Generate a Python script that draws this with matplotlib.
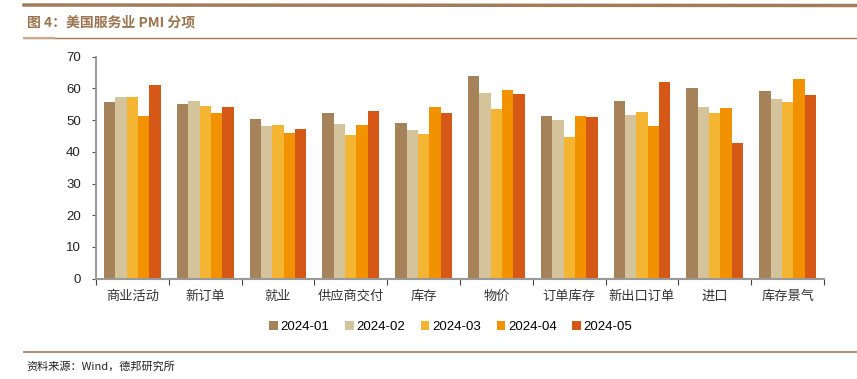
import numpy as np
import matplotlib
matplotlib.use("Agg")
import matplotlib.pyplot as plt
from matplotlib.lines import Line2D

plt.rcParams['font.family'] = ['Liberation Sans', 'Noto Sans CJK SC', 'DejaVu Sans']

categories = ["商业活动", "新订单", "就业", "供应商交付", "库存",
              "物价", "订单库存", "新出口订单", "进口", "库存景气"]
months = ["2024-01", "2024-02", "2024-03", "2024-04", "2024-05"]
v_jan = [55.8, 55.0, 50.5, 52.4, 49.2, 64.0, 51.4, 56.1, 60.0, 59.3]
v_feb = [57.2, 56.1, 48.0, 48.9, 47.0, 58.6, 50.1, 51.5, 54.2, 56.6]
v_mar = [57.4, 54.4, 48.5, 45.4, 45.6, 53.4, 44.8, 52.7, 52.4, 55.6]
v_apr = [51.2, 52.4, 45.9, 48.5, 54.0, 59.4, 51.2, 48.0, 53.7, 62.9]
v_may = [61.2, 54.2, 47.1, 52.9, 52.2, 58.3, 50.9, 61.9, 42.9, 57.8]
series = [v_jan, v_feb, v_mar, v_apr, v_may]
colors = ["#a6825a", "#d5c39b", "#f4b533", "#f39200", "#d55816"]

brown = "#a07c58"

fig = plt.figure(figsize=(8.57, 3.79), dpi=100)
ax = fig.add_axes([0.112, 0.2646, 0.8495, 0.5858])

x = np.arange(len(categories))
w = 0.156
for i, (vals, c) in enumerate(zip(series, colors)):
    ax.bar(x + (i - 2) * w, vals, width=w, color=c, label=months[i], zorder=2)

ax.set_xlim(-0.5, len(categories) - 0.5)
ax.set_ylim(0, 70)
ax.set_yticks(range(0, 71, 10))
ax.tick_params(axis='y', labelsize=9.5, length=3, color="#555555", pad=8, labelcolor="#222222")

ax.set_xticks(np.arange(len(categories) + 1) - 0.5)
ax.set_xticklabels([])
ax.set_xticks(x, minor=True)
ax.set_xticklabels(categories, minor=True, fontsize=9.5, color="#333333",
                   family=['Noto Sans CJK SC', 'DejaVu Sans'])
ax.tick_params(axis='x', which='major', length=4, direction='out', color="#444444")
ax.tick_params(axis='x', which='minor', length=0, pad=8)

for s in ["top", "right"]:
    ax.spines[s].set_visible(False)
ax.spines["left"].set_color("#888888")
ax.spines["left"].set_linewidth(1.2)
ax.spines["bottom"].set_color("#999999")
ax.spines["bottom"].set_linewidth(1.5)

fig.legend(loc="center", bbox_to_anchor=(0.526, 0.137), ncol=5, frameon=False,
           fontsize=9.5, handlelength=0.65, handleheight=0.65, handletextpad=0.2,
           columnspacing=1.2)

# header and footer decoration
fig.add_artist(Line2D([24 / 857, 1], [1 - 5 / 379, 1 - 5.5 / 379], color=brown, lw=2.5))
fig.add_artist(Line2D([24 / 857, 1], [1 - 37.5 / 379, 1 - 37.5 / 379], color=brown, lw=1))
fig.add_artist(Line2D([24 / 857, 54 / 857], [1 - 38 / 379, 1 - 38 / 379], color="#c9ab8c", lw=1.5))
fig.add_artist(Line2D([24 / 857, 1], [1 - 351.5 / 379, 1 - 351.5 / 379], color=brown, lw=1.2))

fig.text(27 / 857, 1 - 22 / 379, "图 4：美国服务业 PMI 分项", fontsize=10, fontweight="bold",
         color="#9a7550", va="center", family=['Noto Sans CJK SC', 'DejaVu Sans'])
fig.text(26 / 857, 1 - 366 / 379, "资料来源：Wind，德邦研究所", fontsize=8, color="#222222",
         va="center", family=['Noto Sans CJK SC', 'DejaVu Sans'])

fig.savefig("out.png", dpi=100)
